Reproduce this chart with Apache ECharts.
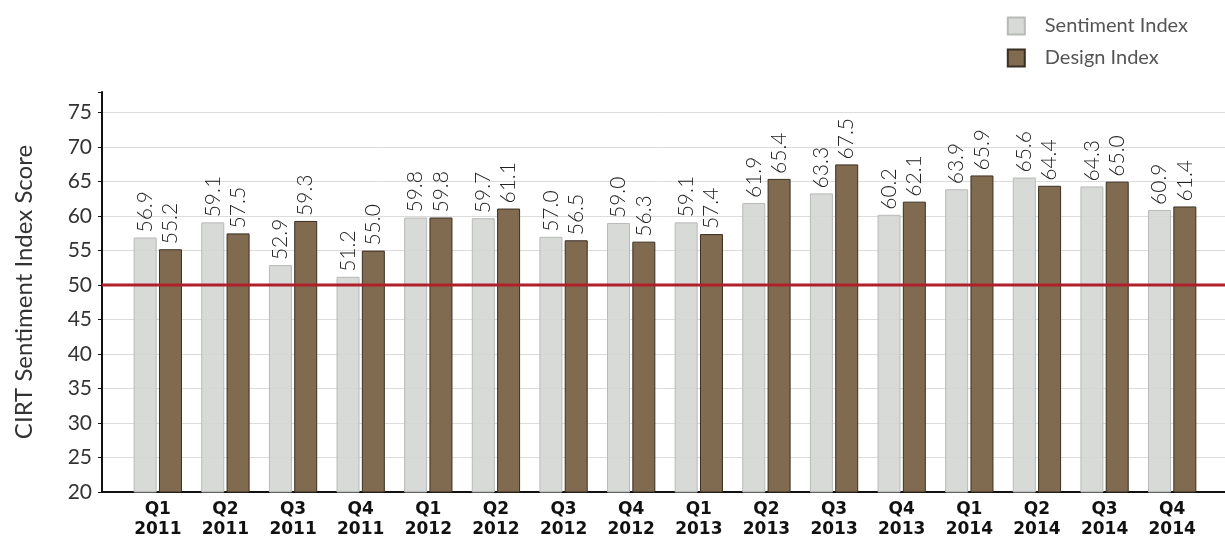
<!DOCTYPE html>
<html>
<head>
<meta charset="utf-8">
<script src="https://cdn.jsdelivr.net/npm/echarts@6/dist/echarts.min.js"></script>
<style>
  html, body { margin: 0; padding: 0; background: #fff; }
  #main { width: 1225px; height: 540px; }
</style>
</head>
<body>
<div id="main"></div>
<script>
var quarters = ['Q1\n2011', 'Q2\n2011', 'Q3\n2011', 'Q4\n2011',
                'Q1\n2012', 'Q2\n2012', 'Q3\n2012', 'Q4\n2012',
                'Q1\n2013', 'Q2\n2013', 'Q3\n2013', 'Q4\n2013',
                'Q1\n2014', 'Q2\n2014', 'Q3\n2014', 'Q4\n2014'];
var sentimentIndex = [56.9, 59.1, 52.9, 51.2, 59.8, 59.7, 57.0, 59.0, 59.1, 61.9, 63.3, 60.2, 63.9, 65.6, 64.3, 60.9];
var designIndex = [55.2, 57.5, 59.3, 55.0, 59.8, 61.1, 56.5, 56.3, 57.4, 65.4, 67.5, 62.1, 65.9, 64.4, 65.0, 61.4];
var threshold = 50;

var font = 'Lato, "Open Sans", sans-serif';
var chart = echarts.init(document.getElementById('main'));

var barLabel = {
  show: true,
  position: 'top',
  rotate: 90,
  align: 'left',
  verticalAlign: 'middle',
  distance: 5,
  fontFamily: font,
  fontWeight: 300,
  fontSize: 21,
  color: '#222',
  formatter: function (p) { return p.value.toFixed(1); }
};

var option = {
  animation: false,
  legend: {
    data: ['Sentiment Index', 'Design Index'],
    orient: 'vertical',
    right: 32,
    top: 11,
    itemWidth: 17,
    itemHeight: 17,
    itemGap: 12,
    icon: 'rect',
    textStyle: { fontFamily: font, fontSize: 20, color: '#555', padding: [0, 0, 0, 15] }
  },
  grid: [
    { left: 124, right: 19, top: 92, bottom: 48 },
    { left: 102, right: 0, top: 92, bottom: 48 }
  ],
  xAxis: [
    {
      type: 'category', gridIndex: 0, data: quarters,
      axisLine: { show: false }, axisTick: { show: false },
      axisLabel: { fontFamily: '"DejaVu Sans", sans-serif', fontWeight: 'bold', fontSize: 17, color: '#111', lineHeight: 20, margin: 8 }
    },
    {
      type: 'value', gridIndex: 1, min: 0, max: 1,
      axisLine: { show: true, lineStyle: { color: '#111', width: 2 } },
      axisTick: { show: false }, axisLabel: { show: false }, splitLine: { show: false }
    }
  ],
  yAxis: [
    {
      type: 'value', gridIndex: 0, min: 20, max: 78, interval: 5, show: false
    },
    {
      type: 'value', gridIndex: 1, min: 20, max: 78, interval: 5,
      name: 'CIRT Sentiment Index Score',
      nameLocation: 'middle',
      nameGap: 66,
      nameTextStyle: { fontFamily: font, fontSize: 24, color: '#333' },
      axisLine: { show: true, lineStyle: { color: '#111', width: 2 } },
      axisTick: { show: true, length: 4, lineStyle: { color: '#111' } },
      axisLabel: {
        fontFamily: font, fontSize: 21, color: '#333', margin: 10,
        formatter: function (v) { return v % 5 === 0 ? v : ''; }
      },
      splitLine: { show: true, showMaxLine: false, lineStyle: { color: '#dcdcdc', width: 1 } }
    }
  ],
  series: [
    {
      name: 'Sentiment Index', type: 'bar', xAxisIndex: 0, yAxisIndex: 0,
      data: sentimentIndex, barWidth: 23, barGap: '10%',
      itemStyle: { color: 'rgba(212,214,211,0.9)', borderColor: '#b8bab7', borderWidth: 1 },
      label: barLabel
    },
    {
      name: 'Design Index', type: 'bar', xAxisIndex: 0, yAxisIndex: 0,
      data: designIndex, barWidth: 23,
      itemStyle: { color: '#806a50', borderColor: '#3b2f22', borderWidth: 1 },
      label: barLabel
    },
    {
      name: 'threshold', type: 'line', xAxisIndex: 1, yAxisIndex: 1,
      data: [[0, threshold], [1, threshold]],
      symbol: 'none', silent: true,
      lineStyle: { color: '#b0202a', width: 3 }
    }
  ]
};

chart.setOption(option);
</script>
</body>
</html>
